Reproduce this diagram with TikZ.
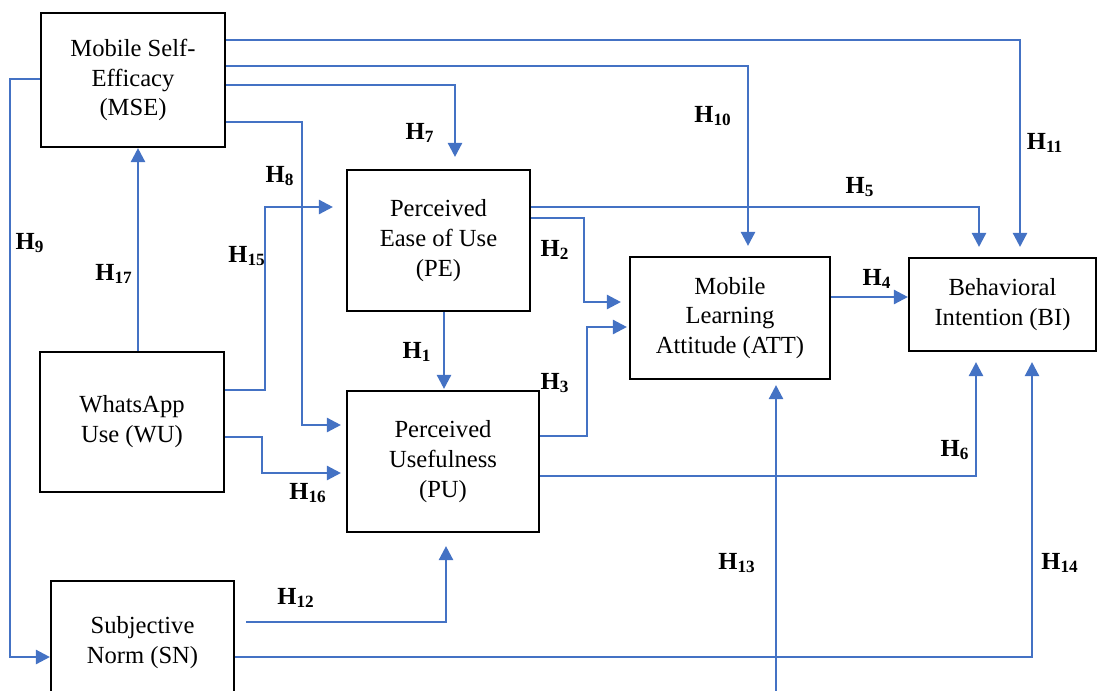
\documentclass[tikz,border=0pt]{standalone}
\usepackage{fontspec}
\setmainfont{Liberation Serif}
\usetikzlibrary{positioning,arrows.meta,calc}
\definecolor{linkblue}{HTML}{4472C4}
\newcommand{\hyp}[1]{\textbf{H\textsubscript{#1}}}
\begin{document}
\begin{tikzpicture}[x=0.02cm,y=-0.02cm,
    every node/.style={font=\fontsize{14}{17}\selectfont},
    construct/.style 2 args={draw=black,line width=1.2pt,align=center,
      minimum width=#1*0.02cm,minimum height=#2*0.02cm,inner sep=0pt},
    link/.style={draw=linkblue,line width=1.4pt,
      -{Triangle[length=8pt,width=8pt]},shorten >=#1*0.02cm},
    link/.default=10,
    hlabel/.style={inner sep=0pt}]
  \clip (0,0) rectangle (1097,690);
  % constructs
  \node[construct={184}{134}] (mse) at (133,80) {Mobile Self-\\Efficacy\\(MSE)};
  \node[construct={183}{141}] (pe) at (438.5,240.5) {Perceived\\Ease of Use\\(PE)};
  \node[construct={184}{140}] (wu) at (132,422) {WhatsApp\\Use (WU)};
  \node[construct={192}{141}] (pu) at (443,461.5) {Perceived\\Usefulness\\(PU)};
  \node[construct={200}{122}] (att) at (730,318) {Mobile\\Learning\\Attitude (ATT)};
  \node[construct={187}{93}] (bi) at (1002.5,304.5) {Behavioral\\Intention (BI)};
  \node[construct={183}{124}] (sn) at (142.5,643) {Subjective\\Norm (SN)};
  \coordinate (below) at (776,700);
  % paths
  \draw[link] (mse.east |- 0,40) -| (bi.north -| 1020,0);
  \draw[link] (mse.east |- 0,66) -| (att.north -| 748,0);
  \draw[link=12] (mse.east |- 0,85) -| (pe.north -| 455,0);
  \draw[link=5] (mse.east |- 0,122) -| (302,425) -- (pu.west |- 0,425);
  \draw[link=0] (mse.west |- 0,79) -| (10,657) -- (sn.west |- 0,657);
  \draw[link=0] (wu.north -| 138,0) -- (mse.south -| 138,0);
  \draw[link=13] (wu.east |- 0,390) -| (265,207) -- (pe.west |- 0,207);
  \draw[link=5] (wu.east |- 0,437) -| (262,473) -- (pu.west |- 0,473);
  \draw[link=1] (pe.south -| 444,0) -- (pu.north -| 444,0);
  \draw[link=8] (pe.east |- 0,218) -| (584,302) -- (att.west |- 0,302);
  \draw[link] (pe.east |- 0,207) -| (bi.north -| 979,0);
  \draw[link=2] (pu.east |- 0,436) -| (587,327) -- (att.west |- 0,327);
  \draw[link] (pu.east |- 0,476) -| (bi.south -| 976,0);
  \draw[link=0] (att.east |- 0,297) -- (bi.west |- 0,297);
  \draw[link=13,shorten <=11*0.02cm] (sn.east |- 0,622) -| (pu.south -| 446,0);
  \draw[link] (sn.east |- 0,657) -| (bi.south -| 1032,0);
  \draw[link=5] (below) -- (att.south -| 776,0);
  % hypotheses
  \node[hlabel] (h1) at (417,352) {\hyp{1}};
  \node[hlabel] (h2) at (555,250) {\hyp{2}};
  \node[hlabel] (h3) at (555,383) {\hyp{3}};
  \node[hlabel] (h4) at (877,279) {\hyp{4}};
  \node[hlabel] (h5) at (860,187) {\hyp{5}};
  \node[hlabel] (h6) at (955,450) {\hyp{6}};
  \node[hlabel] (h7) at (420,133) {\hyp{7}};
  \node[hlabel] (h8) at (280,176) {\hyp{8}};
  \node[hlabel] (h9) at (30,243) {\hyp{9}};
  \node[hlabel] (h10) at (713,116) {\hyp{10}};
  \node[hlabel] (h11) at (1045,143) {\hyp{11}};
  \node[hlabel] (h12) at (296,598) {\hyp{12}};
  \node[hlabel] (h13) at (737,563) {\hyp{13}};
  \node[hlabel] (h14) at (1060,563) {\hyp{14}};
  \node[hlabel] (h15) at (247,256) {\hyp{15}};
  \node[hlabel] (h16) at (308,493) {\hyp{16}};
  \node[hlabel] (h17) at (114,274) {\hyp{17}};
\end{tikzpicture}
\end{document}
